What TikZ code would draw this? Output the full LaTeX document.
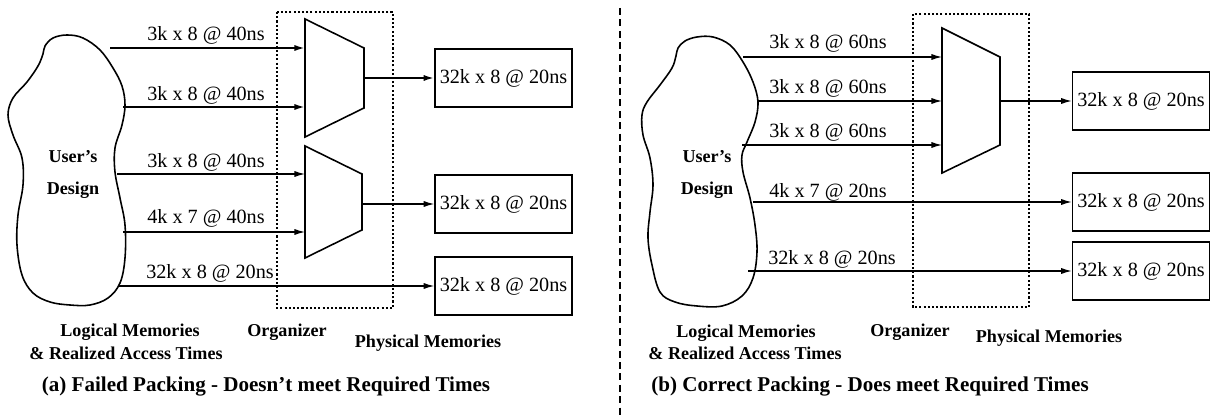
\documentclass[tikz,border=0pt]{standalone}
\usepackage{fontspec}
\setmainfont{Liberation Serif}
\usetikzlibrary{arrows.meta}

\tikzset{
  memlink/.style={line width=0.7pt, -{Latex[length=6pt,width=3.5pt]}},
  boldlink/.style={memlink, line width=1.1pt},
  physmem/.style={draw, line width=0.9pt, minimum width=2.74cm, minimum height=1.16cm, inner sep=1pt},
  muxshape/.style={draw, line width=0.9pt},
  orgbox/.style={draw, line width=1pt, dash pattern=on 1.2pt off 1.2pt},
  blobline/.style={line width=0.9pt},
  headlabel/.style={font=\fontsize{10.3}{12}\selectfont\bfseries, inner sep=0pt},
  caplabel/.style={font=\fontsize{12}{14}\selectfont\bfseries, inner sep=0pt}
}

\begin{document}
\begin{tikzpicture}[x=0.02cm, y=-0.02cm, font=\fontsize{11.5}{13}\selectfont]
    \useasboundingbox (0,0) rectangle (1225,415);

    % Divider between the two cases
    \draw[line width=0.9pt, dash pattern=on 4pt off 2.5pt] (620,8) -- (620,415);

    %%%%% (a) Failed packing
    % User's design
    \draw[blobline] plot[smooth cycle, tension=0.6] coordinates {
        (45,46) (53,38) (67,35) (83,38) (100,50) (113,68) (122,86) (125,105)
        (122,125) (115,148) (115,172) (120,198) (125,225) (125,258) (120,283)
        (108,298) (90,305) (70,305) (50,302) (33,293) (22,275) (17,245)
        (18,215) (23,185) (22,158) (13,135) (8,115) (13,98) (27,82) (38,66) (43,54)};
    \node[headlabel] (ua) at (73,157) {User's};
    \node[headlabel] (da) at (73,190) {Design};

    % Organizer
    \draw[orgbox] (277,12) rectangle (393,308);
    \draw[muxshape] (305,19) -- (364,48) -- (364,108) -- (305,137) -- cycle;
    \draw[muxshape] (305,146) -- (362,174) -- (362,230) -- (305,258) -- cycle;
    \coordinate (ma1) at (305,48);
    \coordinate (ma2) at (305,107);
    \coordinate (ma3) at (305,174);
    \coordinate (ma4) at (305,232);
    \coordinate (oa1) at (364,78);
    \coordinate (oa2) at (362,204);

    % Physical memories
    \node[physmem] (pa1) at (503.5,78) {32k x 8 @ 20ns};
    \node[physmem] (pa2) at (503.5,204) {32k x 8 @ 20ns};
    \node[physmem] (pa3) at (503.5,286) {32k x 8 @ 20ns};

    % Logical memories
    \coordinate (la1) at (110,48);
    \coordinate (la2) at (123,107);
    \coordinate (la3) at (117,174);
    \coordinate (la4) at (123,232);
    \coordinate (la5) at (118,286);
    \draw[boldlink] (la1) -- (ma1);
    \draw[boldlink] (la2) -- (ma2);
    \draw[memlink] (la3) -- (ma3);
    \draw[memlink] (la4) -- (ma4);
    \draw[memlink] (la5) -- (pa3.west);
    \draw[boldlink] (oa1) -- (pa1.west);
    \draw[memlink] (oa2) -- (pa2.west);
    \node (ta1) at (206,35) {3k x 8 @ 40ns};
    \node (ta2) at (206,95) {3k x 8 @ 40ns};
    \node (ta3) at (206,162) {3k x 8 @ 40ns};
    \node (ta4) at (206,218) {4k x 7 @ 40ns};
    \node (ta5) at (210,273) {32k x 8 @ 20ns};

    % Titles
    \node[headlabel] (lga) at (130,332) {Logical Memories};
    \node[headlabel] (rta) at (126,353) {\& Realized Access Times};
    \node[headlabel] (oga) at (287,332) {Organizer};
    \node[headlabel] (pma) at (428,343) {Physical Memories};
    \node[caplabel] (capa) at (266,387) {(a) Failed Packing - Doesn't meet Required Times};

    %%%%% (b) Correct packing
    % User's design
    \draw[blobline] plot[smooth cycle, tension=0.6] coordinates {
        (678,48) (685,41) (697,37) (713,37) (730,45) (743,62) (753,82) (758,102)
        (755,122) (747,142) (742,155) (743,172) (750,198) (755,225) (757,252)
        (753,278) (742,296) (722,306) (697,306) (675,302) (660,292) (652,265)
        (648,238) (650,212) (653,185) (650,158) (643,135) (642,115) (647,102)
        (660,85) (672,68) (676,56)};
    \node[headlabel] (ub) at (707,157) {User's};
    \node[headlabel] (db) at (707,190) {Design};

    % Organizer
    \draw[orgbox] (913,14) rectangle (1029,307);
    \draw[muxshape] (942,28) -- (1000,57) -- (1000,145) -- (942,173) -- cycle;
    \coordinate (mb1) at (942,57);
    \coordinate (mb2) at (942,101);
    \coordinate (mb3) at (942,145);
    \coordinate (ob1) at (1000,101);

    % Physical memories
    \node[physmem] (pb1) at (1141,101) {32k x 8 @ 20ns};
    \node[physmem] (pb2) at (1141,202) {32k x 8 @ 20ns};
    \node[physmem] (pb3) at (1141,271) {32k x 8 @ 20ns};

    % Logical memories
    \coordinate (lb1) at (743,57);
    \coordinate (lb2) at (757,101);
    \coordinate (lb3) at (742,145);
    \coordinate (lb4) at (753,202);
    \coordinate (lb5) at (748,271);
    \foreach \i in {1,2,3} {
        \draw[memlink] (lb\i) -- (mb\i);
    }
    \draw[memlink] (lb4) -- (pb2.west);
    \draw[memlink] (lb5) -- (pb3.west);
    \draw[memlink] (ob1) -- (pb1.west);
    \node (tb1) at (828,43) {3k x 8 @ 60ns};
    \node (tb2) at (828,88) {3k x 8 @ 60ns};
    \node (tb3) at (828,132) {3k x 8 @ 60ns};
    \node (tb4) at (828,192) {4k x 7 @ 20ns};
    \node (tb5) at (832,259) {32k x 8 @ 20ns};

    % Titles
    \node[headlabel] (lgb) at (746,333) {Logical Memories};
    \node[headlabel] (rtb) at (745,353) {\& Realized Access Times};
    \node[headlabel] (ogb) at (910,332) {Organizer};
    \node[headlabel] (pmb) at (1049,338) {Physical Memories};
    \node[caplabel] (capb) at (870,387) {(b) Correct Packing - Does meet Required Times};
\end{tikzpicture}
\end{document}
